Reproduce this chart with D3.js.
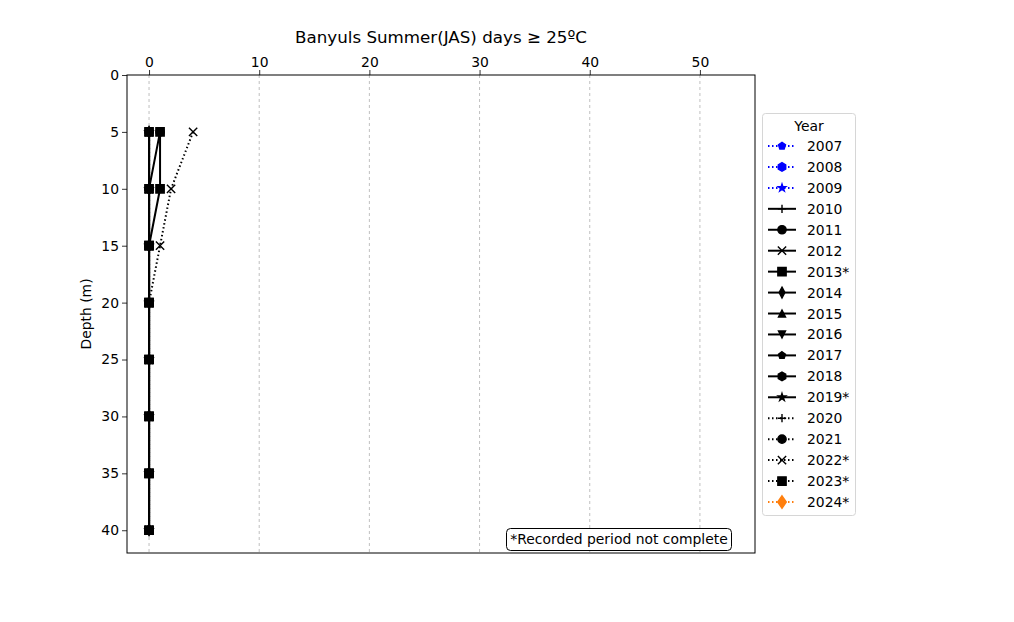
<!DOCTYPE html>
<html lang="en">
<head>
<meta charset="UTF-8">
<title>Banyuls</title>
<script src="https://cdn.jsdelivr.net/npm/d3@7"></script>
<style>
  body { margin:0; background:#fff; }
  svg text { font-family: "DejaVu Sans", sans-serif; }
</style>
</head>
<body>
<div id="grafica"></div>
<script>
// data
depths = [5, 10, 15, 20, 25, 30, 35, 40]
years = ['2007','2008','2009','2010','2011','2012','2013*','2014','2015','2016','2017','2018','2019*','2020','2021','2022*','2023*','2024*']
markers = ['p','h','*','+','o','x','s','d','^','v','p','h','*','+','o','x','s','D']
colores = ['blue','blue','blue','black','black','black','black','black','black','black','black','black','black','black','black','black','black','#ff7f0e']
estilos = ['dot','dot','dot','solid','solid','solid','solid','solid','solid','solid','solid','solid','solid','dot','dot','dot','dot','dot']
nada = [null,null,null,null,null,null,null,null]
valores = [
  nada, nada, nada,
  [0,0,0,0,0,0,0,0],
  [1,0,0,0,0,0,0,0],
  [0,0,0,0,0,0,0,0],
  [1,1,0,0,0,0,0,0],
  [0,0,0,0,0,0,0,0],
  [0,0,0,0,0,0,0,0],
  [0,0,0,0,0,0,0,0],
  [0,0,0,0,0,0,0,0],
  [0,0,0,0,0,0,0,0],
  [0,0,0,0,0,0,0,0],
  [0,0,0,0,0,0,0,0],
  [0,0,0,0,0,0,0,0],
  [4,2,1,0,0,0,0,0],
  [0,0,0,0,0,0,0,0],
  nada
]
xTicks = [0,10,20,30,40,50]
yTicks = [0,5,10,15,20,25,30,35,40]

ancho_total = 1014
alto_total = 622
margin = {top:75, left:127}
ancho = 628
alto = 478
fs = '13.9px'

svg = d3.select('#grafica').append('svg')
  .attr('width', ancho_total).attr('height', alto_total)

g = svg.append('g').attr('transform','translate('+margin.left+','+margin.top+')')

x = d3.scaleLinear().domain([-2, 55]).range([0, ancho])
y = d3.scaleLinear().domain([0, 42]).range([0, alto])

// grid
g.append('g').selectAll('line').data(xTicks).join('line')
  .attr('x1', d=>x(d)).attr('x2', d=>x(d))
  .attr('y1', 0).attr('y2', alto)
  .attr('stroke','#b0b0b0').attr('stroke-width',0.8)
  .attr('stroke-dasharray','3,3')

// axes
xAxis = g.append('g').call(d3.axisTop(x).tickValues(xTicks).tickSize(5).tickPadding(3))
yAxis = g.append('g').call(d3.axisLeft(y).tickValues(yTicks).tickSize(5).tickPadding(3))
;[xAxis, yAxis].forEach(a=>{
  a.select('.domain').remove()
  a.selectAll('line').attr('stroke','#000').attr('stroke-width',0.8)
  a.selectAll('text').attr('font-size',fs).attr('fill','#000')
    .style('font-family','"DejaVu Sans", sans-serif')
})

// marker shapes, ms = marker size in px
function poly(n, r, rot) {
  pts = []
  for (i=0;i<n;i++) {
    a = rot + i*2*Math.PI/n
    pts.push([r*Math.sin(a), -r*Math.cos(a)])
  }
  return 'M'+pts.map(p=>p.join(',')).join('L')+'Z'
}
function star(r) {
  pts = []
  for (i=0;i<10;i++) {
    a = i*Math.PI/5
    rr = i%2==0 ? r : r*0.381966
    pts.push([rr*Math.sin(a), -rr*Math.cos(a)])
  }
  return 'M'+pts.map(p=>p.join(',')).join('L')+'Z'
}
function markerPath(m, ms) {
  h = ms/2
  if (m=='o') return d3.symbol(d3.symbolCircle, Math.PI*h*h)()
  if (m=='s') return 'M'+(-h)+','+(-h)+'H'+h+'V'+h+'H'+(-h)+'Z'
  if (m=='D') return 'M0,-6.2L4.3,0L0,6.2L-4.3,0Z'
  if (m=='d') return 'M0,-5.4L2.9,0L0,5.4L-2.9,0Z'
  if (m=='^') { t=h*0.85; return 'M0,'+(-t)+'L'+t+','+t+'L'+(-t)+','+t+'Z' }
  if (m=='v') { t=h*0.85; return 'M0,'+t+'L'+t+','+(-t)+'L'+(-t)+','+(-t)+'Z' }
  if (m=='p') return poly(5, 3.7, 0)
  if (m=='h') return poly(6, 4.3, 0)
  if (m=='*') return star(3.9)
  if (m=='+') return 'M'+(-h)+',0H'+h+'M0,'+(-h)+'V'+h
  if (m=='x') return 'M'+(-h)+','+(-h)+'L'+h+','+h+'M'+h+','+(-h)+'L'+(-h)+','+h
}
ms = 8.3
function dash(e) { return e=='dot' ? '1.5,2.5' : null }

clip = svg.append('clipPath').attr('id','clip').append('rect')
  .attr('width', ancho).attr('height', alto)
plot = g.append('g').attr('clip-path','url(#clip)')

linea = d3.line()
  .defined(d=>d.v!=null)
  .x(d=>x(d.v)).y(d=>y(d.z))

years.forEach((yr,i)=>{
  data = depths.map((z,j)=>({z:z, v:valores[i][j]}))
  plot.append('path').datum(data)
    .attr('d', linea)
    .attr('fill','none')
    .attr('stroke', colores[i]).attr('stroke-width',2)
    .attr('stroke-dasharray', dash(estilos[i]))
  plot.append('g').selectAll('path').data(data.filter(d=>d.v!=null)).join('path')
    .attr('transform', d=>'translate('+x(d.v)+','+y(d.z)+')')
    .attr('d', markerPath(markers[i], ms))
    .attr('fill', (markers[i]=='+'||markers[i]=='x') ? 'none' : colores[i])
    .attr('stroke', colores[i]).attr('stroke-width', 1.4)
})

// frame
g.append('rect').attr('width', ancho).attr('height', alto)
  .attr('fill','none').attr('stroke','#000').attr('stroke-width',1)

// title & labels
svg.append('text').attr('x', 441).attr('y', 43).attr('text-anchor','middle')
  .attr('font-size','16.7px').text('Banyuls Summer(JAS) days ≥ 25ºC')
svg.append('text').attr('transform','translate(91,314) rotate(-90)')
  .attr('text-anchor','middle').attr('font-size',fs).text('Depth (m)')

// note box
nota = svg.append('g')
nota.append('rect').attr('x',506.5).attr('y',528.5).attr('width',225).attr('height',22)
  .attr('rx',4).attr('fill','#fff').attr('stroke','#000').attr('stroke-width',1)
nota.append('text').attr('x',619).attr('y',544).attr('text-anchor','middle')
  .attr('font-size',fs).text('*Recorded period not complete')

// legend
leg = svg.append('g').attr('transform','translate(762,113)')
leg.append('rect').attr('x',0.5).attr('y',0.5).attr('width',93).attr('height',402).attr('rx',3)
  .attr('fill','#fff').attr('stroke','#d6d6d6').attr('stroke-width',1)
leg.append('text').attr('x',47).attr('y',18).attr('text-anchor','middle')
  .attr('font-size',fs).text('Year')
years.forEach((yr,i)=>{
  ly = 33 + i*20.94
  e = leg.append('g').attr('transform','translate(0,'+ly+')')
  e.append('line').attr('x1',6).attr('x2',34).attr('y1',0).attr('y2',0)
    .attr('stroke', colores[i]).attr('stroke-width',2)
    .attr('stroke-dasharray', dash(estilos[i]))
  e.append('path').attr('transform','translate(20,0)')
    .attr('d', markerPath(markers[i], ms))
    .attr('fill', (markers[i]=='+'||markers[i]=='x') ? 'none' : colores[i])
    .attr('stroke', colores[i]).attr('stroke-width',1.4)
  e.append('text').attr('x',45).attr('y',5).attr('font-size',fs).text(yr)
})
</script>
</body>
</html>
